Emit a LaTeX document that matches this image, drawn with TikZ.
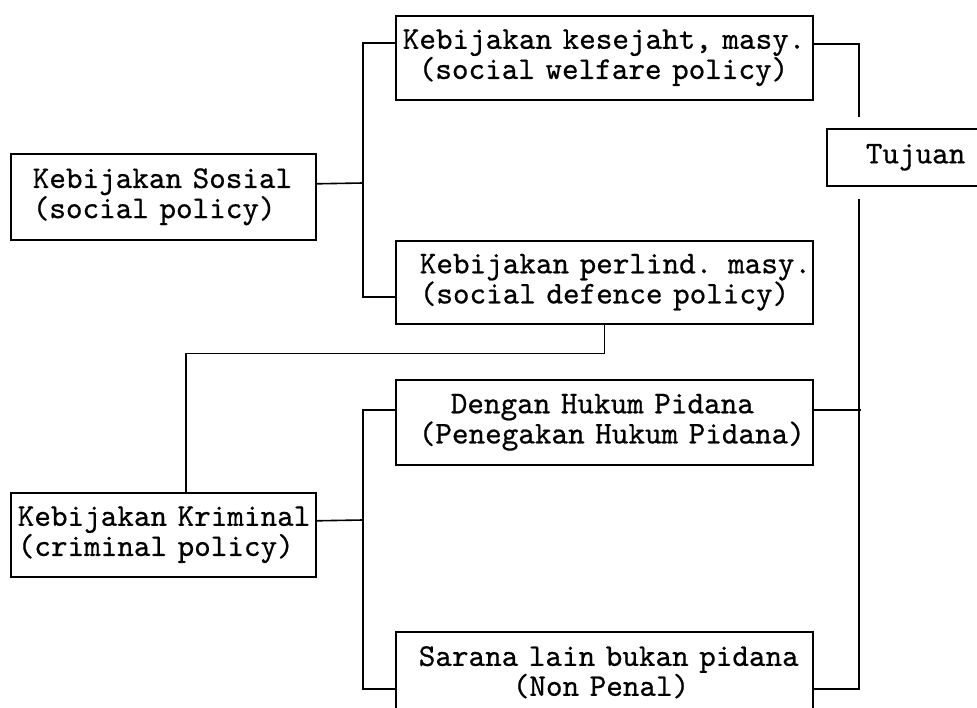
\documentclass[tikz,border=0pt]{standalone}
\usepackage{fontspec}
\newfontfamily\monob{lmmono10-regular.otf}[FakeBold=0.6]
\newcommand\lmg[1]{\hspace*{#1pt}}
\begin{document}
\begin{tikzpicture}[x=1pt,y=-1pt,
  box/.style={draw, line width=1.6pt, rectangle, anchor=north west, inner xsep=0pt, inner ysep=2pt, align=left, font=\monob\fontsize{31.6}{25}\selectfont},
  conn/.style={line width=1.6pt}]
\useasboundingbox (0,0) rectangle (977,708);
\fill[white] (0,0) rectangle (977,708);

\node[box, text width=305pt, minimum height=86pt] (A) at (10,153) {\lmg{22}Kebijakan Sosial\\\lmg{22}(social policy)};
\node[box, text width=417pt, minimum height=84pt] (B) at (395,15) {\lmg{7}Kebijakan kesejaht, masy.\\\lmg{23}(social welfare policy)};
\node[box, text width=417pt, minimum height=83pt] (C) at (395,240) {\lmg{24}Kebijakan perlind. masy.\\\lmg{24}(social defence policy)};
\node[box, text width=417pt, minimum height=85pt] (D) at (395,379) {\lmg{55}Dengan Hukum Pidana\\\lmg{23}(Penegakan Hukum Pidana)};
\node[box, text width=417pt, minimum height=81pt] (E) at (395,631) {\lmg{23}Sarana lain bukan pidana\\\lmg{117}(Non Penal)};
\node[box, text width=305pt, minimum height=84pt] (F) at (10,492) {\lmg{7}Kebijakan Kriminal\\\lmg{7}(criminal policy)};
\node[box, text width=182pt, minimum height=57pt] (T) at (826,128) {\lmg{39}Tujuan};

\coordinate (j1) at (363,183);
\draw[conn] ([yshift=13pt]A.east) -- (j1);
\draw[conn] ([yshift=15pt]B.west) -| (j1) |- ([yshift=-14.5pt]C.west);

\draw[conn] (C.south) -- ++(0,29) -| ([xshift=22.5pt]F.north);

\coordinate (j2) at (363,520);
\draw[conn] ([yshift=14pt]F.east) -- (j2);
\draw[conn] ([yshift=12.5pt]D.west) -| (j2) |- ([yshift=-16.5pt]E.west);

\coordinate (t1) at (859,117);
\coordinate (t2) at (859,199);
\draw[conn] ([yshift=14pt]B.east) -| (t1);
\draw[conn] (t2) |- ([yshift=-16.5pt]E.east);
\draw[conn] ([yshift=12.5pt]D.east) -- ++(47,0);
\end{tikzpicture}
\end{document}
